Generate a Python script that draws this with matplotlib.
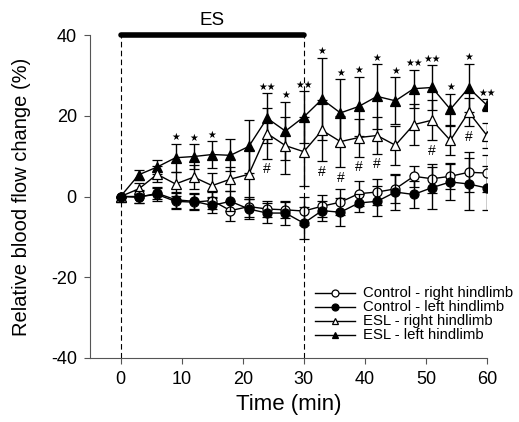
import matplotlib
matplotlib.use("Agg")
import matplotlib.pyplot as plt
from matplotlib.lines import Line2D

plt.rcParams['font.family'] = ['Liberation Sans', 'DejaVu Sans']
plt.rcParams['axes.unicode_minus'] = False

# Time points (min)
time = list(range(0, 61, 3))

# Relative blood flow change (%) and error bars
ctrl_right = [0, 0.0, 0.5, -1.2, -1.4, -1.0, -3.5, -2.5, -3.1, -3.3, -3.6,
              -2.4, -1.4, 0.7, 1.1, 1.9, 5.0, 4.4, 5.0, 6.0, 5.8]
ctrl_right_err = [0, 1.5, 1.5, 2.0, 2.0, 2.0, 2.5, 2.5, 2.0, 2.0, 3.5,
                  2.7, 3.3, 3.1, 3.3, 3.5, 2.6, 3.6, 3.2, 5.0, 4.6]

ctrl_left = [0, -0.2, 0.8, -0.8, -1.2, -2.2, -1.2, -3.1, -4.1, -4.1, -6.6,
             -3.5, -3.9, -1.6, -1.2, 1.1, 0.5, 2.2, 3.6, 3.1, 2.1]
ctrl_left_err = [0, 1.5, 1.5, 2.0, 2.0, 2.0, 2.5, 2.5, 2.5, 3.0, 3.9,
                 2.5, 3.5, 2.3, 3.7, 4.5, 3.3, 5.2, 4.4, 6.5, 5.5]

esl_right = [0, 1.9, 5.5, 3.1, 4.8, 2.7, 4.3, 5.5, 15.6, 12.6, 11.1,
             16.4, 13.6, 14.6, 15.1, 12.7, 17.8, 18.9, 13.9, 20.9, 15.1]
esl_right_err = [0, 1.5, 2.0, 3.0, 3.0, 3.0, 3.0, 6.0, 6.2, 7.0, 8.5,
                 7.6, 6.3, 4.7, 4.5, 4.8, 5.1, 5.0, 3.5, 3.5, 3.0]

esl_left = [0, 5.4, 7.3, 9.6, 9.9, 10.4, 10.2, 12.4, 19.4, 16.2, 19.7,
            24.1, 20.7, 22.3, 24.8, 23.7, 26.7, 27.0, 21.6, 26.9, 22.6]
esl_left_err = [0, 1.2, 1.8, 3.5, 3.0, 3.3, 4.0, 6.5, 6.2, 7.2, 6.4,
                10.2, 8.3, 7.3, 8.0, 5.8, 4.7, 5.5, 3.9, 6.0, 1.5]

# Significance marks: ESL left vs control (stars), ESL right vs control (#)
star_marks = {9: 1, 12: 1, 15: 1, 24: 2, 27: 1, 30: 2,
              33: 1, 36: 1, 39: 1, 42: 1, 45: 1, 48: 2,
              51: 2, 54: 1, 57: 1, 60: 2}
hash_marks = [24, 33, 36, 39, 42, 51, 57]

labels = ["Control - right hindlimb", "Control - left hindlimb",
          "ESL - right hindlimb", "ESL - left hindlimb"]
styles = [("o", "white"), ("o", "black"), ("^", "white"), ("^", "black")]

W, H = 519, 422
fig = plt.figure(figsize=(W / 100, H / 100), dpi=100)
ax = fig.add_axes([90 / W, (H - 358) / H, 397 / W, 323 / H])

common = dict(color="black", lw=1.0, elinewidth=1.0, capsize=3.5,
              capthick=1.0, markersize=6.5, markeredgewidth=0.9,
              markeredgecolor="black")

series = [(ctrl_right, ctrl_right_err), (ctrl_left, ctrl_left_err),
          (esl_right, esl_right_err), (esl_left, esl_left_err)]
zorders = [4, 5, 4, 3]
for (vals, err), (mk, fc), z in zip(series, styles, zorders):
    ax.errorbar(time, vals, yerr=err, fmt="-" + mk, markerfacecolor=fc,
                zorder=z, **common)

# Stimulation period
ax.plot([0, 30], [40, 40], color="black", lw=4, solid_capstyle="round",
        clip_on=False, zorder=6)
ax.text(15, 41.6, "ES", ha="center", va="bottom", fontsize=13.5)
for xv in (0, 30):
    ax.plot([xv, xv], [-40, 40], color="black", lw=0.8,
            ls=(0, (5, 3)), zorder=1)

for t, n in star_marks.items():
    i = time.index(t)
    ax.text(t, esl_left[i] + esl_left_err[i] + 0.4, "\u2605" * n,
            ha="center", va="bottom", fontsize=7,
            family=["DejaVu Sans"])
for t in hash_marks:
    i = time.index(t)
    ax.text(t, esl_right[i] - esl_right_err[i] - 0.9, "#", ha="center",
            va="top", fontsize=10)

ax.set_xlim(-5, 60)
ax.set_ylim(-40, 40)
ax.set_xticks(range(0, 61, 10))
ax.set_yticks(range(-40, 41, 20))
ax.spines["top"].set_visible(False)
ax.spines["right"].set_visible(False)
for sp in ("left", "bottom"):
    ax.spines[sp].set_linewidth(0.8)
    ax.spines[sp].set_color("#555555")
ax.tick_params(direction="out", length=4.5, width=0.8, color="#555555",
               labelsize=13, pad=5)
ax.set_xlabel("Time (min)", fontsize=16, labelpad=4)
ax.set_ylabel("Relative blood flow change (%)", fontsize=14.5, labelpad=14)

# Legend rows: sample line with marker, then label
rows_y = [293, 307, 321, 335]
for (mk, fc), lab, yp in zip(styles, labels, rows_y):
    fy = (H - yp) / H
    fig.add_artist(Line2D([315 / W, 355 / W], [fy, fy], color="black",
                          lw=1.0))
    fig.add_artist(Line2D([335 / W], [fy], marker=mk, markersize=5,
                          markerfacecolor=fc, markeredgecolor="black",
                          markeredgewidth=0.9, lw=0))
    fig.text(363 / W, fy, lab, ha="left", va="center", fontsize=10.7)

fig.savefig("out.png", dpi=100)
